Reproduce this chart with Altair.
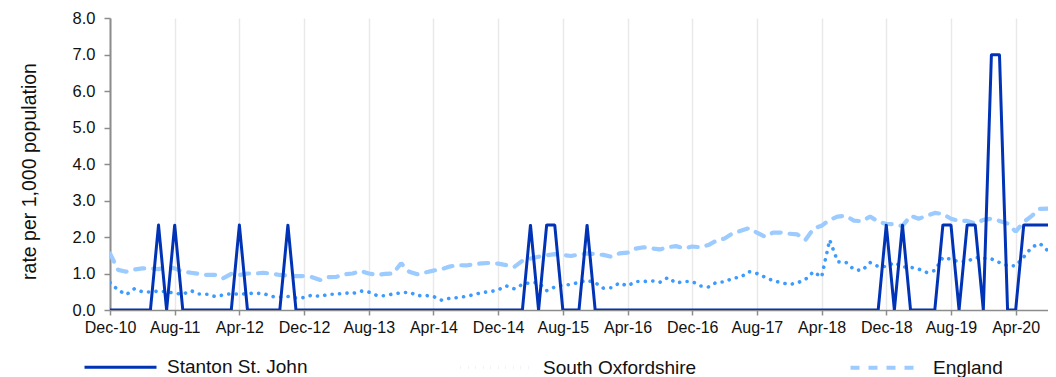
import altair as alt
import pandas as pd

# ---- data -------------------------------------------------------------
series_names = ["Stanton St. John", "South Oxfordshire", "England"]

tick_labels = ["Dec-10", "Aug-11", "Apr-12", "Dec-12", "Aug-13", "Apr-14", "Dec-14",
               "Aug-15", "Apr-16", "Dec-16", "Aug-17", "Apr-18", "Dec-18", "Aug-19", "Apr-20"]

stanton = [0.0] * 117
for i in [6, 8, 16, 22, 52, 54, 55, 59, 96, 98, 103, 104, 106, 107, 113, 114, 115, 116]:
    stanton[i] = 2.33
for i in [109, 110]:
    stanton[i] = 6.99

south_oxon = [
    0.75, 0.55, 0.42, 0.58, 0.50, 0.49, 0.52, 0.50, 0.46, 0.43,
    0.53, 0.44, 0.43, 0.37, 0.41, 0.45, 0.43, 0.45, 0.46, 0.45,
    0.37, 0.35, 0.37, 0.33, 0.34, 0.41, 0.37, 0.43, 0.43, 0.47,
    0.45, 0.52, 0.49, 0.40, 0.39, 0.44, 0.47, 0.49, 0.39, 0.40,
    0.37, 0.27, 0.32, 0.34, 0.37, 0.42, 0.48, 0.50, 0.55, 0.66,
    0.58, 0.70, 0.75, 0.75, 0.53, 0.63, 0.68, 0.70, 0.76, 0.81,
    0.75, 0.60, 0.61, 0.74, 0.66, 0.78, 0.78, 0.80, 0.76, 0.89,
    0.74, 0.78, 0.78, 0.66, 0.63, 0.76, 0.77, 0.87, 0.90, 1.05,
    1.00, 0.90, 0.80, 0.75, 0.70, 0.74, 0.84, 1.05, 0.90, 1.92,
    1.32, 1.31, 1.11, 1.08, 1.30, 1.19, 1.19, 1.30, 1.18, 1.17,
    1.12, 1.03, 1.08, 1.44, 1.39, 1.32, 1.33, 1.44, 1.42, 1.40,
    1.30, 1.21, 1.21, 1.45, 1.72, 1.82, 1.62,
]

england = [
    1.55, 1.10, 1.05, 1.11, 1.14, 1.14, 1.12, 1.17, 1.14, 1.05,
    1.02, 0.99, 0.96, 0.96, 0.87, 0.99, 0.96, 1.00, 1.00, 1.02,
    0.99, 0.96, 0.94, 0.93, 0.93, 0.90, 0.82, 0.90, 0.91, 0.98,
    1.00, 1.07, 1.00, 0.96, 0.99, 1.00, 1.28, 1.05, 0.98, 1.03,
    1.08, 1.12, 1.19, 1.23, 1.22, 1.25, 1.28, 1.29, 1.27, 1.23,
    1.18, 1.35, 1.41, 1.46, 1.50, 1.53, 1.51, 1.48, 1.52, 1.55,
    1.53, 1.51, 1.46, 1.55, 1.57, 1.68, 1.72, 1.69, 1.66, 1.72,
    1.75, 1.69, 1.74, 1.72, 1.78, 1.90, 1.96, 2.10, 2.17, 2.24,
    2.12, 2.01, 2.12, 2.12, 2.09, 2.07, 1.92, 2.23, 2.31, 2.47,
    2.56, 2.58, 2.45, 2.43, 2.56, 2.42, 2.36, 2.35, 2.30, 2.58,
    2.50, 2.58, 2.66, 2.63, 2.50, 2.44, 2.44, 2.37, 2.47, 2.50,
    2.44, 2.37, 2.15, 2.41, 2.58, 2.77, 2.78,
]

month_abbr = ["Jan", "Feb", "Mar", "Apr", "May", "Jun",
              "Jul", "Aug", "Sep", "Oct", "Nov", "Dec"]
months = []
for i in range(len(england)):
    m = (11 + i) % 12
    y = 10 + (11 + i) // 12
    months.append(f"{month_abbr[m]}-{y:02d}")

rows = []
for name, vals in [("England", england), ("South Oxfordshire", south_oxon),
                   ("Stanton St. John", stanton)]:
    for i, v in enumerate(vals):
        rows.append({"idx": i, "month": months[i], "series": name, "value": v})
df = pd.DataFrame(rows)

# ---- chart ------------------------------------------------------------
FONT = "Liberation Sans"
label_expr = "[" + ",".join(f"'{t}'" for t in tick_labels) + "][round(datum.value/8)]"

chart = alt.Chart(df).mark_line(clip=True, strokeCap="round", strokeJoin="bevel").encode(
    x=alt.X("idx:Q",
            scale=alt.Scale(domain=[0, len(england) - 1], nice=False, zero=False),
            axis=alt.Axis(values=list(range(0, 113, 8)), labelExpr=label_expr,
                          labelOverlap=False, labelFlush=False,
                          title=None, grid=True, gridColor="#e9e9e9", gridWidth=1.5,
                          domainColor="#8c8c8c", domainWidth=1.5,
                          tickColor="#8c8c8c", tickSize=5, tickWidth=1.5,
                          labelFontSize=16, labelPadding=4, labelColor="#111111",
                          labelFont=FONT)),
    y=alt.Y("value:Q",
            scale=alt.Scale(domain=[0, 8], nice=False),
            axis=alt.Axis(values=list(range(0, 9)), format=".1f", grid=False,
                          labelOverlap=False, labelFlush=False,
                          title="rate per 1,000 population",
                          titleFontSize=19.5, titleFontWeight="normal", titleFont=FONT,
                          titleColor="#111111", titleAngle=270, titleX=-81, titleY=153,
                          titleAlign="center", titleBaseline="middle",
                          domainColor="#8c8c8c", domainWidth=2,
                          tickColor="#8c8c8c", tickSize=6, tickWidth=1.5,
                          labelFontSize=16.5, labelPadding=9, labelColor="#111111",
                          labelFont=FONT)),
    color=alt.Color("series:N",
                    scale=alt.Scale(domain=series_names,
                                    range=["#0033b5", "#3d9bff", "#9ccbff"]),
                    legend=alt.Legend(orient="none", legendX=-28, legendY=311,
                                      direction="horizontal", columns=3,
                                      columnPadding=145, title=None,
                                      symbolType="stroke", symbolSize=5184,
                                      symbolStrokeWidth=2, labelFontSize=19,
                                      labelFont=FONT, labelColor="#111111",
                                      labelOffset=8, labelLimit=300)),
    strokeDash=alt.StrokeDash("series:N",
                              scale=alt.Scale(domain=series_names,
                                              range=[[1, 0], [0.1, 7.4], [9, 9]]),
                              legend=None),
    strokeWidth=alt.StrokeWidth("series:N",
                                scale=alt.Scale(domain=series_names, range=[3, 4.2, 4]),
                                legend=None),
    order=alt.Order("idx:Q"),
).properties(
    width=938, height=292,
    autosize=alt.AutoSizeParams(type="none"),
    padding={"left": 102, "top": 10, "right": 0, "bottom": 75},
).configure_view(stroke=None)

chart.save("out.html", embed_options={"renderer": "svg", "actions": False})
